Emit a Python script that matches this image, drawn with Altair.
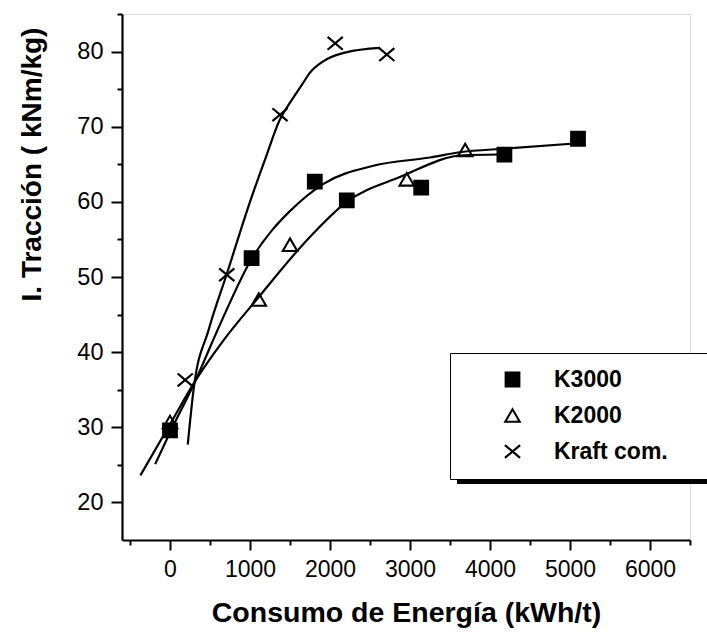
import altair as alt
import pandas as pd

series_names = ["K3000", "K2000", "Kraft com."]

# measured points
k3000_x = [0, 1020, 1810, 2210, 3140, 4180, 5100]
k3000_y = [29.6, 52.5, 62.7, 60.2, 61.9, 66.3, 68.4]
k2000_x = [0, 1110, 1500, 2960, 3690]
k2000_y = [30.7, 47.0, 54.3, 63.0, 66.9]
kraft_x = [190, 710, 1375, 2065, 2710]
kraft_y = [36.3, 50.3, 71.6, 81.1, 79.6]

# fitted curves
k3000_curve_x = [-185, 0, 318, 630, 1025, 1274, 1502, 1918, 2541, 3248, 3622, 4200, 5100]
k3000_curve_y = [25.1, 29.3, 36.2, 43.8, 52.5, 56.2, 58.8, 62.4, 64.8, 65.9, 66.6, 67.1, 67.8]
k2000_curve_x = [-370, 0, 318, 671, 1107, 1711, 2209, 2874, 3660, 4100]
k2000_curve_y = [23.6, 30.4, 36.2, 41.6, 47.3, 54.9, 60.0, 63.3, 66.2, 66.3]
kraft_curve_x = [222, 297, 484, 713, 1000, 1200, 1375, 1500, 1650, 1750, 1900, 2200, 2625]
kraft_curve_y = [27.7, 35.2, 43.0, 50.5, 60.0, 66.0, 71.0, 73.2, 75.6, 77.2, 78.6, 79.9, 80.5]

x_tick_values = list(range(-500, 6501, 500))
y_tick_values = list(range(20, 86, 5))

pt_rows = []
for name, xs, ys in [("K3000", k3000_x, k3000_y), ("K2000", k2000_x, k2000_y), ("Kraft com.", kraft_x, kraft_y)]:
    for a, b in zip(xs, ys):
        pt_rows.append({"serie": name, "x": a, "y": b})
points_df = pd.DataFrame(pt_rows)

cv_rows = []
for name, xs, ys in [("K3000", k3000_curve_x, k3000_curve_y), ("K2000", k2000_curve_x, k2000_curve_y),
                     ("Kraft com.", kraft_curve_x, kraft_curve_y)]:
    for i, (a, b) in enumerate(zip(xs, ys)):
        cv_rows.append({"serie": name, "x": a, "y": b, "o": i})
curves_df = pd.DataFrame(cv_rows)

FONT = "Liberation Sans"

x_scale = alt.Scale(domain=[-600, 6500], nice=False, zero=False)
y_scale = alt.Scale(domain=[15, 85], nice=False, zero=False)

x_axis = alt.Axis(
    values=x_tick_values, format="d",
    labelExpr="datum.value % 1000 === 0 ? datum.label : ''",
    tickSize={"condition": {"test": "datum.value % 1000 === 0", "value": 10}, "value": 5},
    title="Consumo de Energía (kWh/t)", titleFont=FONT, titleFontSize=28.5, titleFontWeight="bold",
    titleColor="black", titleBaseline="alphabetic", titleY=81,
    labelFont=FONT, labelFontSize=23, labelColor="black", labelPadding=8,
    tickColor="black", tickWidth=2, domainColor="black", domainWidth=2.2, grid=False,
    labelOverlap=False, labelFlush=False,
)
y_axis = alt.Axis(
    values=y_tick_values, format="d",
    labelExpr="datum.value % 10 === 0 ? datum.label : ''",
    tickSize={"condition": {"test": "datum.value % 10 === 0", "value": 11}, "value": 5},
    title="I. Tracción ( kNm/kg)", titleFont=FONT, titleFontSize=28, titleFontWeight="bold",
    titleColor="black", titleBaseline="alphabetic", titleAlign="center", titleX=-82, titleY=150,
    labelFont=FONT, labelFontSize=23.5, labelColor="black", labelPadding=8,
    tickColor="black", tickWidth=2, domainColor="black", domainWidth=2.2, grid=False,
    labelOverlap=False, labelFlush=False,
)

lines = alt.Chart(curves_df).mark_line(color="black", strokeWidth=2.2, interpolate="monotone").encode(
    x=alt.X("x:Q", scale=x_scale, axis=x_axis),
    y=alt.Y("y:Q", scale=y_scale, axis=y_axis),
    detail="serie:N",
    order="o:Q",
)

xpath = "M-1,-0.85L1,0.85M-1,0.85L1,-0.85"
legend = alt.Legend(
    title=" ", titleOrient="right", titlePadding=25, titleFontSize=23,
    orient="none", legendX=328, legendY=339,
    fillColor="white", strokeColor="black", padding=15,
    symbolOffset=36, labelOffset=30, rowPadding=12,
    labelFont=FONT, labelFontSize=23, labelFontWeight="bold", labelColor="black",
    symbolStrokeColor="black",
)

pts = alt.Chart(points_df).mark_point(filled=False, color="black", opacity=1).encode(
    x=alt.X("x:Q", scale=x_scale),
    y=alt.Y("y:Q", scale=y_scale),
    shape=alt.Shape("serie:N", scale=alt.Scale(domain=series_names, range=["square", "triangle-up", xpath]),
                    legend=legend),
    fill=alt.Fill("serie:N", scale=alt.Scale(domain=series_names, range=["black", "transparent", "black"]),
                  legend=legend),
    stroke=alt.Stroke("serie:N", scale=alt.Scale(domain=series_names, range=["black", "black", "black"]),
                      legend=legend),
    size=alt.Size("serie:N", scale=alt.Scale(domain=series_names, range=[190, 230, 300]), legend=legend),
    strokeWidth=alt.StrokeWidth("serie:N", scale=alt.Scale(domain=series_names, range=[2, 2.2, 2.8]),
                                legend=legend),
)

shadow = alt.Chart(pd.DataFrame({"a": [0]})).mark_rule(color="black", strokeWidth=6).encode(
    x=alt.value(335), x2=alt.value(590), y=alt.value(467)
)

chart = alt.layer(shadow, lines, pts).properties(
    width=568, height=526,
    autosize=alt.AutoSizeParams(type="none"),
    padding={"left": 122, "top": 14, "right": 17, "bottom": 97},
).configure_view(stroke=None).configure(background="white")

chart.save("out.html", embed_options={"renderer": "svg", "actions": False})
